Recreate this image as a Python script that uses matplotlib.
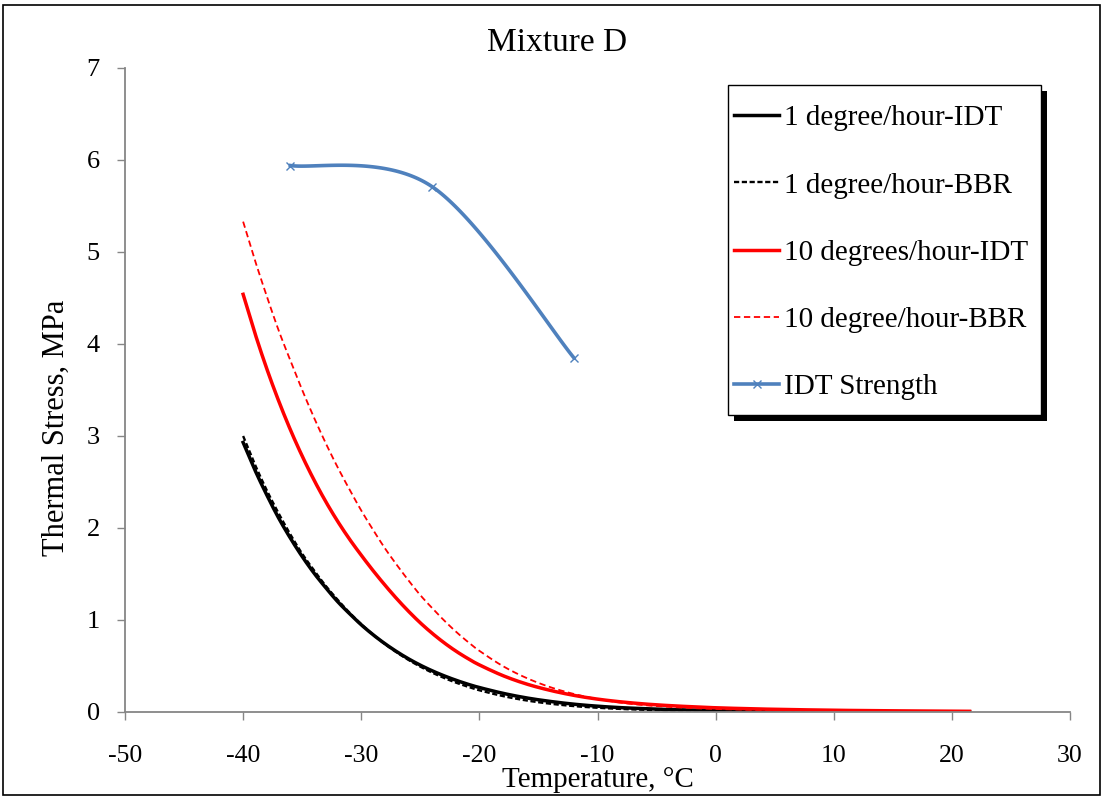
import numpy as np
import matplotlib
matplotlib.use("Agg")
import matplotlib.pyplot as plt
from matplotlib.patches import Rectangle

plt.rcParams['font.family'] = ['Liberation Serif', 'DejaVu Serif']
plt.rcParams['axes.unicode_minus'] = False

# ---- data ----
temp = [-40, -39, -38, -37, -36, -35, -34, -33, -32, -31, -30, -29, -28,
        -27, -26, -25, -24, -23, -22, -21, -20, -18, -16, -14, -12, -10,
        -8, -6, -4, -2, 0, 3, 6, 10, 15, 21.5]
stress_1_idt = [2.93, 2.63, 2.36, 2.11, 1.89, 1.69, 1.51, 1.35, 1.20, 1.07,
                0.948, 0.840, 0.743, 0.656, 0.578, 0.509, 0.448, 0.394,
                0.346, 0.303, 0.266, 0.203, 0.153, 0.115, 0.085, 0.063,
                0.047, 0.036, 0.027, 0.021, 0.0167, 0.012, 0.0086, 0.0056,
                0.0033, 0.0018]
stress_1_bbr = [3.00, 2.69, 2.41, 2.16, 1.93, 1.72, 1.54, 1.37, 1.22, 1.08,
                0.954, 0.841, 0.739, 0.648, 0.566, 0.493, 0.428, 0.371,
                0.320, 0.276, 0.236, 0.173, 0.125, 0.090, 0.064, 0.046,
                0.033, 0.024, 0.0176, 0.013, 0.0098, 0.0064, 0.0043, 0.0026,
                0.0015, 0.0007]
stress_10_idt = [4.540, 4.117, 3.732, 3.384, 3.068, 2.782, 2.522, 2.286,
                 2.073, 1.880, 1.704, 1.537, 1.380, 1.232, 1.095, 0.969,
                 0.856, 0.754, 0.663, 0.583, 0.512, 0.395, 0.304, 0.235,
                 0.181, 0.140, 0.110, 0.087, 0.070, 0.057, 0.046, 0.035,
                 0.027, 0.019, 0.0128, 0.0076]
stress_10_bbr = [5.33, 4.91, 4.52, 4.15, 3.82, 3.50, 3.20, 2.92, 2.66, 2.42,
                 2.19, 1.98, 1.78, 1.60, 1.43, 1.27, 1.13, 0.997, 0.875,
                 0.765, 0.665, 0.498, 0.369, 0.270, 0.196, 0.141, 0.101,
                 0.074, 0.056, 0.0425, 0.033, 0.023, 0.0167, 0.011, 0.0067,
                 0.0037]
idt_temp = [-36, -24, -12]
idt_strength = [5.94, 5.71, 3.85]

labels = ["1 degree/hour-IDT", "1 degree/hour-BBR", "10 degrees/hour-IDT",
          "10 degree/hour-BBR", "IDT Strength"]
x_ticks = [-50, -40, -30, -20, -10, 0, 10, 20, 30]
y_ticks = [0, 1, 2, 3, 4, 5, 6, 7]


def excel_smooth(xs, ys, n=20):
    """Bezier smoothing similar to Excel's smoothed line."""
    pts = np.column_stack([xs, ys]).astype(float)
    out = []
    for i in range(len(pts) - 1):
        p0 = pts[max(i - 1, 0)]
        p1 = pts[i]
        p2 = pts[i + 1]
        p3 = pts[min(i + 2, len(pts) - 1)]
        c1 = p1 + (p2 - p0) / 6.0
        c2 = p2 - (p3 - p1) / 6.0
        t = np.linspace(0, 1, n)[:, None]
        seg = ((1 - t) ** 3) * p1 + 3 * ((1 - t) ** 2) * t * c1 + \
              3 * (1 - t) * t ** 2 * c2 + t ** 3 * p2
        out.append(seg if i == 0 else seg[1:])
    out = np.vstack(out)
    return out[:, 0], out[:, 1]


W, H = 1103, 797
fig = plt.figure(figsize=(W / 100, H / 100), dpi=100)
ax = fig.add_axes([125 / W, 1 - 712 / H, (1070 - 125) / W, (712 - 68) / H])

x, y = excel_smooth(temp, stress_1_idt)
ax.plot(x, y, color='black', lw=2.5, label=labels[0])
x, y = excel_smooth(temp, stress_1_bbr)
ax.plot(x, y, color='black', lw=1.7, ls=(0, (2.2, 1.1)), label=labels[1])
x, y = excel_smooth(temp, stress_10_idt)
ax.plot(x, y, color='#FF0000', lw=2.5, label=labels[2])
x, y = excel_smooth(temp, stress_10_bbr)
ax.plot(x, y, color='#FF0000', lw=1.3, ls=(0, (3.5, 2)), label=labels[3])
sx, sy = excel_smooth(idt_temp, idt_strength, n=60)
ax.plot(sx, sy, color='#4F81BD', lw=2.6)
ax.plot(idt_temp, idt_strength, ls='none', marker='x', ms=6, mew=1,
        color='#4F81BD')
ax.plot([], [], color='#4F81BD', lw=2.6, marker='x', ms=6, mew=1,
        label=labels[4])

ax.set_xlim(-50, 30)
ax.set_ylim(0, 7)
ax.set_xticks(x_ticks)
ax.set_yticks(y_ticks)
ax.tick_params(axis='x', direction='out', length=6, width=1, color='#868686',
               pad=18, labelsize=18.5)
ax.tick_params(axis='y', direction='out', length=6, width=1, color='#868686',
               pad=12, labelsize=19)
for s in ['top', 'right']:
    ax.spines[s].set_visible(False)
for s in ['left', 'bottom']:
    ax.spines[s].set_color('#868686')
    ax.spines[s].set_linewidth(1.3)

ax.set_xlabel("Temperature, °C", fontsize=21, labelpad=0)
ax.set_ylabel("Thermal Stress, MPa", fontsize=22)
ax.yaxis.set_label_coords(-0.057, (712 - 428) / 644)
fig.text(557 / W, 1 - 43 / H, "Mixture D", ha='center', va='center',
         fontsize=24)

# legend box with shadow (drawn as figure patches)
bx0, by0, bx1, by1 = 728, 85, 1041, 415
sh = 6
fig.patches.append(Rectangle(((bx0 + sh) / W, 1 - (by1 + sh) / H),
                             (bx1 - bx0) / W, (by1 - by0) / H,
                             transform=fig.transFigure, facecolor='black',
                             edgecolor='black', lw=0, zorder=3))
fig.patches.append(Rectangle((bx0 / W, 1 - by1 / H),
                             (bx1 - bx0) / W, (by1 - by0) / H,
                             transform=fig.transFigure, facecolor='white',
                             edgecolor='black', lw=1.0, zorder=3.5))

leg = fig.legend(*ax.get_legend_handles_labels(), loc='upper left',
                 bbox_to_anchor=(734 / W, 1 - 105 / H),
                 bbox_transform=fig.transFigure, fontsize=21, frameon=False,
                 labelspacing=1.4, handlelength=1.55, handletextpad=0.15,
                 borderpad=0, borderaxespad=0)
leg.set_zorder(5)

fig.patches.append(Rectangle((0.003, 0.003), 0.994, 0.991,
                             transform=fig.transFigure, fill=False,
                             edgecolor='black', lw=1.2))

fig.savefig("out.png", dpi=100)
